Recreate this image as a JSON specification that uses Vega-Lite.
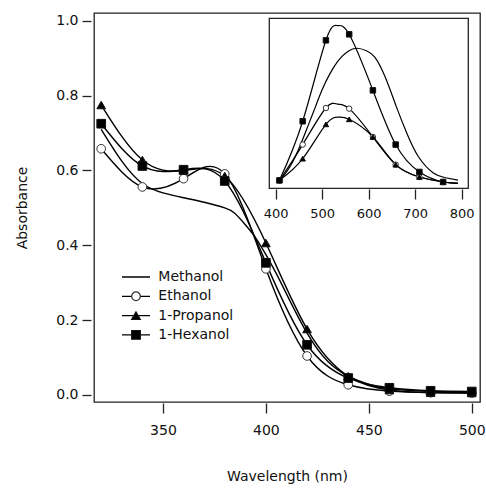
{
  "$schema": "https://vega.github.io/schema/vega-lite/v6.json",
  "width": 386,
  "height": 389,
  "autosize": {"type": "none"},
  "padding": {"left": 94, "top": 13, "right": 6, "bottom": 86},
  "config": {
    "font": "DejaVu Sans",
    "view": {"stroke": "#222", "strokeWidth": 1.3},
    "axis": {
      "labelFont": "DejaVu Sans", "labelFontSize": 14, "labelColor": "#111",
      "titleFont": "DejaVu Sans", "titleFontSize": 14, "titleFontWeight": "normal", "titleColor": "#111",
      "tickColor": "#222", "tickWidth": 1.3, "domain": false, "grid": false
    }
  },
  "datasets": {
    "main": [
      {"solvent": "Methanol", "wavelength": 320, "absorbance": 0.71},
      {"solvent": "Methanol", "wavelength": 330, "absorbance": 0.625},
      {"solvent": "Methanol", "wavelength": 340, "absorbance": 0.565},
      {"solvent": "Methanol", "wavelength": 350, "absorbance": 0.54},
      {"solvent": "Methanol", "wavelength": 360, "absorbance": 0.527},
      {"solvent": "Methanol", "wavelength": 370, "absorbance": 0.515},
      {"solvent": "Methanol", "wavelength": 380, "absorbance": 0.5},
      {"solvent": "Methanol", "wavelength": 385, "absorbance": 0.485},
      {"solvent": "Methanol", "wavelength": 390, "absorbance": 0.455},
      {"solvent": "Methanol", "wavelength": 395, "absorbance": 0.42},
      {"solvent": "Methanol", "wavelength": 400, "absorbance": 0.375},
      {"solvent": "Methanol", "wavelength": 405, "absorbance": 0.325},
      {"solvent": "Methanol", "wavelength": 410, "absorbance": 0.27},
      {"solvent": "Methanol", "wavelength": 420, "absorbance": 0.165},
      {"solvent": "Methanol", "wavelength": 430, "absorbance": 0.09},
      {"solvent": "Methanol", "wavelength": 440, "absorbance": 0.05},
      {"solvent": "Methanol", "wavelength": 450, "absorbance": 0.028},
      {"solvent": "Methanol", "wavelength": 460, "absorbance": 0.016},
      {"solvent": "Methanol", "wavelength": 480, "absorbance": 0.009},
      {"solvent": "Methanol", "wavelength": 500, "absorbance": 0.007},
      {"solvent": "Ethanol", "wavelength": 320, "absorbance": 0.658},
      {"solvent": "Ethanol", "wavelength": 340, "absorbance": 0.556},
      {"solvent": "Ethanol", "wavelength": 360, "absorbance": 0.578},
      {"solvent": "Ethanol", "wavelength": 380, "absorbance": 0.591},
      {"solvent": "Ethanol", "wavelength": 400, "absorbance": 0.337},
      {"solvent": "Ethanol", "wavelength": 420, "absorbance": 0.104},
      {"solvent": "Ethanol", "wavelength": 440, "absorbance": 0.027},
      {"solvent": "Ethanol", "wavelength": 460, "absorbance": 0.01},
      {"solvent": "Ethanol", "wavelength": 480, "absorbance": 0.006},
      {"solvent": "Ethanol", "wavelength": 500, "absorbance": 0.005},
      {"solvent": "1-Propanol", "wavelength": 320, "absorbance": 0.775},
      {"solvent": "1-Propanol", "wavelength": 340, "absorbance": 0.628},
      {"solvent": "1-Propanol", "wavelength": 360, "absorbance": 0.6},
      {"solvent": "1-Propanol", "wavelength": 380, "absorbance": 0.585},
      {"solvent": "1-Propanol", "wavelength": 400, "absorbance": 0.406},
      {"solvent": "1-Propanol", "wavelength": 420, "absorbance": 0.176},
      {"solvent": "1-Propanol", "wavelength": 440, "absorbance": 0.05},
      {"solvent": "1-Propanol", "wavelength": 460, "absorbance": 0.013},
      {"solvent": "1-Propanol", "wavelength": 480, "absorbance": 0.006},
      {"solvent": "1-Propanol", "wavelength": 500, "absorbance": 0.005},
      {"solvent": "1-Hexanol", "wavelength": 320, "absorbance": 0.725},
      {"solvent": "1-Hexanol", "wavelength": 340, "absorbance": 0.612},
      {"solvent": "1-Hexanol", "wavelength": 360, "absorbance": 0.602},
      {"solvent": "1-Hexanol", "wavelength": 380, "absorbance": 0.572},
      {"solvent": "1-Hexanol", "wavelength": 400, "absorbance": 0.353},
      {"solvent": "1-Hexanol", "wavelength": 420, "absorbance": 0.134},
      {"solvent": "1-Hexanol", "wavelength": 440, "absorbance": 0.045},
      {"solvent": "1-Hexanol", "wavelength": 460, "absorbance": 0.019},
      {"solvent": "1-Hexanol", "wavelength": 480, "absorbance": 0.011},
      {"solvent": "1-Hexanol", "wavelength": 500, "absorbance": 0.009}
    ],
    "inset_curves": [
      {"solvent": "Methanol", "wavelength": 408, "absorbance": 0.045},
      {"solvent": "Methanol", "wavelength": 430, "absorbance": 0.13},
      {"solvent": "Methanol", "wavelength": 452, "absorbance": 0.26},
      {"solvent": "Methanol", "wavelength": 470, "absorbance": 0.39},
      {"solvent": "Methanol", "wavelength": 485, "absorbance": 0.5},
      {"solvent": "Methanol", "wavelength": 500, "absorbance": 0.61},
      {"solvent": "Methanol", "wavelength": 517, "absorbance": 0.71},
      {"solvent": "Methanol", "wavelength": 535, "absorbance": 0.79},
      {"solvent": "Methanol", "wavelength": 555, "absorbance": 0.845},
      {"solvent": "Methanol", "wavelength": 575, "absorbance": 0.865},
      {"solvent": "Methanol", "wavelength": 595, "absorbance": 0.85},
      {"solvent": "Methanol", "wavelength": 613, "absorbance": 0.81},
      {"solvent": "Methanol", "wavelength": 635, "absorbance": 0.69},
      {"solvent": "Methanol", "wavelength": 660, "absorbance": 0.5},
      {"solvent": "Methanol", "wavelength": 682, "absorbance": 0.34},
      {"solvent": "Methanol", "wavelength": 707, "absorbance": 0.195},
      {"solvent": "Methanol", "wavelength": 739, "absorbance": 0.095},
      {"solvent": "Methanol", "wavelength": 765, "absorbance": 0.065},
      {"solvent": "Methanol", "wavelength": 792, "absorbance": 0.05},
      {"solvent": "Ethanol", "wavelength": 408, "absorbance": 0.049},
      {"solvent": "Ethanol", "wavelength": 458, "absorbance": 0.27},
      {"solvent": "Ethanol", "wavelength": 508, "absorbance": 0.496},
      {"solvent": "Ethanol", "wavelength": 533, "absorbance": 0.52},
      {"solvent": "Ethanol", "wavelength": 558, "absorbance": 0.492},
      {"solvent": "Ethanol", "wavelength": 609, "absorbance": 0.317},
      {"solvent": "Ethanol", "wavelength": 658, "absorbance": 0.146},
      {"solvent": "Ethanol", "wavelength": 709, "absorbance": 0.07},
      {"solvent": "Ethanol", "wavelength": 760, "absorbance": 0.039},
      {"solvent": "Ethanol", "wavelength": 792, "absorbance": 0.03},
      {"solvent": "1-Propanol", "wavelength": 408, "absorbance": 0.049},
      {"solvent": "1-Propanol", "wavelength": 458, "absorbance": 0.183},
      {"solvent": "1-Propanol", "wavelength": 508, "absorbance": 0.395},
      {"solvent": "1-Propanol", "wavelength": 535, "absorbance": 0.44},
      {"solvent": "1-Propanol", "wavelength": 558, "absorbance": 0.426},
      {"solvent": "1-Propanol", "wavelength": 609, "absorbance": 0.317},
      {"solvent": "1-Propanol", "wavelength": 658, "absorbance": 0.146},
      {"solvent": "1-Propanol", "wavelength": 709, "absorbance": 0.07},
      {"solvent": "1-Propanol", "wavelength": 760, "absorbance": 0.039},
      {"solvent": "1-Propanol", "wavelength": 792, "absorbance": 0.03},
      {"solvent": "1-Hexanol", "wavelength": 408, "absorbance": 0.049},
      {"solvent": "1-Hexanol", "wavelength": 458, "absorbance": 0.414},
      {"solvent": "1-Hexanol", "wavelength": 508, "absorbance": 0.914},
      {"solvent": "1-Hexanol", "wavelength": 533, "absorbance": 1.005},
      {"solvent": "1-Hexanol", "wavelength": 558, "absorbance": 0.951},
      {"solvent": "1-Hexanol", "wavelength": 609, "absorbance": 0.605},
      {"solvent": "1-Hexanol", "wavelength": 658, "absorbance": 0.27},
      {"solvent": "1-Hexanol", "wavelength": 709, "absorbance": 0.101},
      {"solvent": "1-Hexanol", "wavelength": 760, "absorbance": 0.039},
      {"solvent": "1-Hexanol", "wavelength": 792, "absorbance": 0.03}
    ],
    "inset_points": [
      {"solvent": "Ethanol", "wavelength": 408, "absorbance": 0.049},
      {"solvent": "Ethanol", "wavelength": 458, "absorbance": 0.27},
      {"solvent": "Ethanol", "wavelength": 508, "absorbance": 0.496},
      {"solvent": "Ethanol", "wavelength": 558, "absorbance": 0.492},
      {"solvent": "Ethanol", "wavelength": 609, "absorbance": 0.317},
      {"solvent": "Ethanol", "wavelength": 658, "absorbance": 0.146},
      {"solvent": "Ethanol", "wavelength": 709, "absorbance": 0.07},
      {"solvent": "Ethanol", "wavelength": 760, "absorbance": 0.039},
      {"solvent": "1-Propanol", "wavelength": 408, "absorbance": 0.049},
      {"solvent": "1-Propanol", "wavelength": 458, "absorbance": 0.183},
      {"solvent": "1-Propanol", "wavelength": 508, "absorbance": 0.395},
      {"solvent": "1-Propanol", "wavelength": 558, "absorbance": 0.426},
      {"solvent": "1-Propanol", "wavelength": 609, "absorbance": 0.317},
      {"solvent": "1-Propanol", "wavelength": 658, "absorbance": 0.146},
      {"solvent": "1-Propanol", "wavelength": 709, "absorbance": 0.07},
      {"solvent": "1-Propanol", "wavelength": 760, "absorbance": 0.039},
      {"solvent": "1-Hexanol", "wavelength": 408, "absorbance": 0.049},
      {"solvent": "1-Hexanol", "wavelength": 458, "absorbance": 0.414},
      {"solvent": "1-Hexanol", "wavelength": 508, "absorbance": 0.914},
      {"solvent": "1-Hexanol", "wavelength": 558, "absorbance": 0.951},
      {"solvent": "1-Hexanol", "wavelength": 609, "absorbance": 0.605},
      {"solvent": "1-Hexanol", "wavelength": 658, "absorbance": 0.27},
      {"solvent": "1-Hexanol", "wavelength": 709, "absorbance": 0.101},
      {"solvent": "1-Hexanol", "wavelength": 760, "absorbance": 0.039}
    ]
  },
  "layer": [
    {
      "data": {"name": "main"},
      "layer": [
        {
          "mark": {"type": "line", "interpolate": "natural", "strokeWidth": 1.4},
          "encoding": {
            "x": {"field": "wavelength", "type": "quantitative",
              "scale": {"domain": [316.5, 504], "nice": false, "zero": false},
              "axis": {"values": [350, 400, 450, 500], "orient": "bottom", "offset": 1, "tickSize": 10, "labelPadding": 10,
                "title": "Wavelength (nm)", "titleY": 77.7, "titleBaseline": "alphabetic"}},
            "y": {"field": "absorbance", "type": "quantitative",
              "scale": {"domain": [-0.019, 1.021], "nice": false, "zero": false},
              "axis": {"values": [0, 0.2, 0.4, 0.6, 0.8, 1.0], "format": ".1f", "orient": "left", "offset": 3, "tickSize": 9, "labelPadding": 4,
                "title": "Absorbance", "titlePadding": 26}},
            "color": {"field": "solvent", "type": "nominal",
              "scale": {"domain": ["Methanol", "Ethanol", "1-Propanol", "1-Hexanol"], "range": ["black", "black", "black", "black"]},
              "legend": {
                "orient": "none", "legendX": 27, "legendY": 257, "title": null, "padding": 0,
                "symbolType": "stroke", "symbolSize": 784, "symbolStrokeWidth": 1.3, "symbolStrokeColor": "black", "symbolOffset": 0,
                "clipHeight": 14, "rowPadding": 5.3,
                "labelFont": "DejaVu Sans", "labelFontSize": 14, "labelColor": "#111", "labelOffset": 7.3
              }}
          }
        },
        {
          "transform": [{"filter": "datum.solvent !== 'Methanol'"}],
          "mark": {"type": "point", "size": 75, "strokeWidth": 1, "opacity": 1},
          "encoding": {
            "x": {"field": "wavelength", "type": "quantitative"},
            "y": {"field": "absorbance", "type": "quantitative"},
            "shape": {"field": "solvent", "type": "nominal",
              "scale": {"domain": ["Ethanol", "1-Propanol", "1-Hexanol"], "range": ["circle", "triangle-up", "square"]},
              "legend": {"orient": "none", "legendX": 35, "legendY": 276.3, "title": null, "padding": 0,
                "symbolSize": 75, "symbolStrokeWidth": 1.2, "symbolOpacity": 1, "symbolOffset": 0,
                "clipHeight": 14, "rowPadding": 5.3, "labelExpr": "''", "labelFontSize": 14}},
            "fill": {"field": "solvent", "type": "nominal",
              "scale": {"domain": ["Ethanol", "1-Propanol", "1-Hexanol"], "range": ["white", "black", "black"]},
              "legend": {"orient": "none", "legendX": 35, "legendY": 276.3, "title": null, "padding": 0,
                "symbolSize": 75, "symbolStrokeWidth": 1.2, "symbolOpacity": 1, "symbolOffset": 0,
                "clipHeight": 14, "rowPadding": 5.3, "labelExpr": "''", "labelFontSize": 14}},
            "stroke": {"field": "solvent", "type": "nominal",
              "scale": {"domain": ["Ethanol", "1-Propanol", "1-Hexanol"], "range": ["#333", "#111", "#111"]},
              "legend": {"orient": "none", "legendX": 35, "legendY": 276.3, "title": null, "padding": 0,
                "symbolSize": 75, "symbolStrokeWidth": 1.2, "symbolOpacity": 1, "symbolOffset": 0,
                "clipHeight": 14, "rowPadding": 5.3, "labelExpr": "''", "labelFontSize": 14}}
          }
        }
      ]
    },
    {
      "layer": [
        {
          "data": {"values": [{}]},
          "mark": {"type": "rect", "fill": "white", "stroke": "#222", "strokeWidth": 1.3},
          "encoding": {
            "x": {"datum": 386.2, "type": "quantitative",
              "scale": {"domain": [386.2, 814.2], "range": [175.3, 374.3], "nice": false, "zero": false},
              "axis": {"values": [400, 500, 600, 700, 800], "orient": "bottom", "offset": -213, "tickSize": 10, "labelPadding": 8, "labelFontSize": 13, "title": null}},
            "x2": {"datum": 814.2},
            "y": {"datum": 0, "type": "quantitative",
              "scale": {"domain": [0, 1.05], "range": [175.3, 5.3], "nice": false, "zero": false}, "axis": null},
            "y2": {"datum": 1.05}
          }
        },
        {
          "data": {"name": "inset_curves"},
          "mark": {"type": "line", "interpolate": "natural", "stroke": "black", "strokeWidth": 1.2},
          "encoding": {
            "x": {"field": "wavelength", "type": "quantitative", "axis": {"values": [400, 500, 600, 700, 800], "orient": "bottom", "offset": -213, "tickSize": 10, "labelPadding": 8, "labelFontSize": 13, "title": null}},
            "y": {"field": "absorbance", "type": "quantitative", "axis": null},
            "detail": {"field": "solvent", "type": "nominal"}
          }
        },
        {
          "data": {"name": "inset_points"},
          "mark": {"type": "point", "size": 30, "strokeWidth": 1, "opacity": 1},
          "encoding": {
            "x": {"field": "wavelength", "type": "quantitative", "axis": {"values": [400, 500, 600, 700, 800], "orient": "bottom", "offset": -213, "tickSize": 10, "labelPadding": 8, "labelFontSize": 13, "title": null}},
            "y": {"field": "absorbance", "type": "quantitative", "axis": null},
            "shape": {"field": "solvent", "type": "nominal"},
            "fill": {"field": "solvent", "type": "nominal"},
            "stroke": {"field": "solvent", "type": "nominal"}
          }
        }
      ]
    }
  ],
  "resolve": {"scale": {"x": "independent", "y": "independent"}}
}
